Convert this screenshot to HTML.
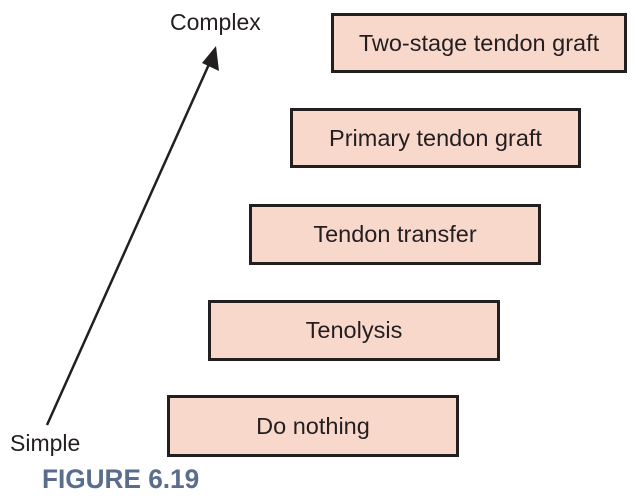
<!DOCTYPE html>
<html><head><style>
body{margin:0;width:636px;height:503px;background:#fff;overflow:hidden;position:relative;font-family:"Liberation Sans",sans-serif}
.b{position:absolute;box-sizing:border-box;border:3px solid #231f20;background:#f9d8cc;display:flex;align-items:center;justify-content:center;font-size:23.5px;color:#231f20}
.t{position:absolute;font-size:23px;color:#231f20;line-height:1}
</style></head><body>
<div class="b" style="left:331px;top:13px;width:296px;height:60px">Two-stage tendon graft</div>
<div class="b" style="left:290px;top:108px;width:291px;height:60px">Primary tendon graft</div>
<div class="b" style="left:249px;top:204px;width:292px;height:61px">Tendon transfer</div>
<div class="b" style="left:208px;top:300px;width:292px;height:61px">Tenolysis</div>
<div class="b" style="left:167px;top:395px;width:292px;height:62px">Do nothing</div>
<div class="t" style="left:170px;top:11px">Complex</div>
<div class="t" style="left:10px;top:432px">Simple</div>
<div style="position:absolute;left:42px;top:466px;font-size:27px;line-height:1;font-weight:bold;color:#5a6d8c;transform:scaleX(0.97);transform-origin:left">FIGURE 6.19</div>
<svg width="636" height="503" style="position:absolute;left:0;top:0">
<line x1="47" y1="425" x2="210" y2="62" stroke="#231f20" stroke-width="2.5"/>
<polygon points="216,46 219,71 202,63" fill="#231f20"/>
</svg>
</body></html>
